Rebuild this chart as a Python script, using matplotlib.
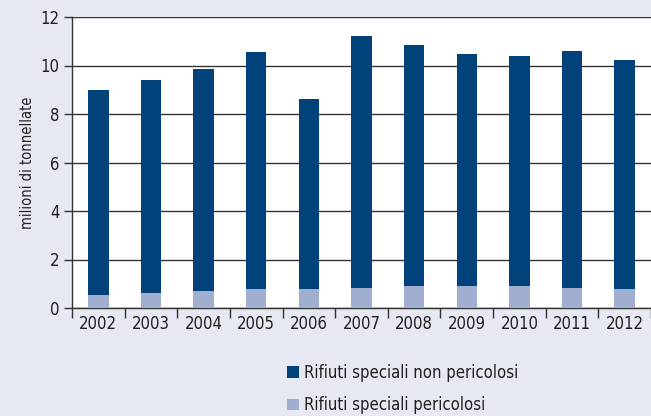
import matplotlib
matplotlib.use("Agg")
import matplotlib.pyplot as plt
import numpy as np

plt.rcParams['font.family'] = ['DejaVu Sans']
plt.rcParams['font.stretch'] = 'condensed'

years = ["2002", "2003", "2004", "2005", "2006", "2007", "2008", "2009", "2010", "2011", "2012"]
totale = [9.0, 9.39, 9.84, 10.54, 8.6, 11.23, 10.85, 10.46, 10.38, 10.61, 10.23]
pericolosi = [0.54, 0.6, 0.69, 0.77, 0.77, 0.84, 0.91, 0.91, 0.91, 0.84, 0.77]
non_pericolosi = [t - p for t, p in zip(totale, pericolosi)]

dark = "#01427A"
light = "#A0AED0"
bg = "#E6E8F2"
txt = "#231F20"

fig = plt.figure(figsize=(6.51, 4.16), dpi=100, facecolor=bg)
ax = fig.add_axes([72/651, (416-308)/416, 1 - 72/651, (308-17)/416])
ax.set_facecolor("white")

x = np.arange(len(years))
w = 0.39
ax.bar(x, pericolosi, width=w, color=light, zorder=3, label="Rifiuti speciali pericolosi")
ax.bar(x, non_pericolosi, width=w, bottom=pericolosi, color=dark, zorder=3,
       label="Rifiuti speciali non pericolosi")

ax.set_xlim(-0.5, len(years) - 0.5)
ax.set_ylim(0, 12)
ax.set_yticks(range(0, 13, 2))
ax.yaxis.grid(True, color="#333333", linewidth=1.0, zorder=1)
ax.set_xticks(x)
ax.set_xticklabels(years, fontsize=12, color=txt)
ax.tick_params(axis='x', length=0, pad=5)
ax.set_xticks(np.arange(-0.5, len(years) + 0.5, 1), minor=True)
ax.tick_params(axis='x', which='minor', length=7, width=1, color="#333333", direction='out')
ax.tick_params(axis='y', length=6, width=1, color="#333333", labelsize=12, labelcolor=txt, pad=3)
for s in ['top', 'right']:
    ax.spines[s].set_visible(False)
for s in ['left', 'bottom']:
    ax.spines[s].set_color("#333333")
    ax.spines[s].set_linewidth(1.0)
ax.set_ylabel("milioni di tonnellate", fontsize=10.5, color=txt, labelpad=4)

handles, labels = ax.get_legend_handles_labels()
leg = fig.legend(handles[::-1], labels[::-1], loc='upper left', bbox_to_anchor=(272/651, 1 - 349/416),
                 frameon=False, fontsize=12, handlelength=0.7, handleheight=0.7,
                 handletextpad=0.3, labelspacing=0.85)
for t in leg.get_texts():
    t.set_color(txt)

fig.savefig("out.png", dpi=100, facecolor=bg)
